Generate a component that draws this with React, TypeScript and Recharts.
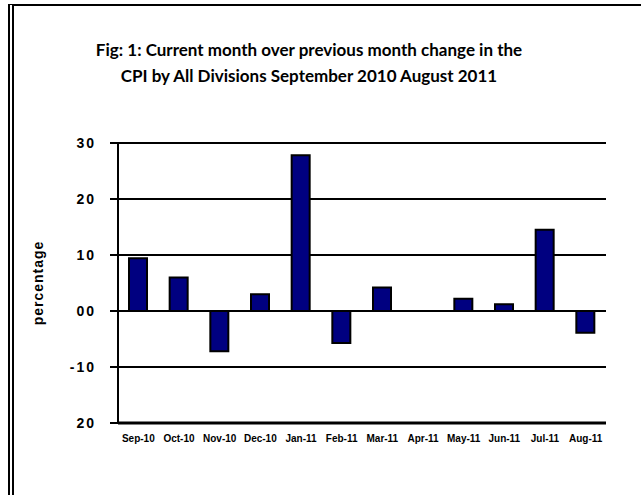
import { BarChart, Bar, XAxis, YAxis, CartesianGrid } from "recharts";

const months = [
  "Sep-10", "Oct-10", "Nov-10", "Dec-10", "Jan-11", "Feb-11",
  "Mar-11", "Apr-11", "May-11", "Jun-11", "Jul-11", "Aug-11",
];
const changes = [9.4, 6.0, -7.2, 3.0, 27.8, -5.7, 4.2, 0, 2.2, 1.2, 14.5, -3.9];
const yTicks = [-20, -10, 0, 10, 20, 30];
const yTickLabels = ["20", "-10", "00", "10", "20", "30"];

const data = months.map((m, i) => ({ month: m, change: changes[i] }));

const titleLines = [
  "Fig: 1: Current month over previous month change in the",
  "CPI by All Divisions September 2010 August 2011",
];

export default function App() {
  return (
    <div style={{ position: "absolute", left: 0, top: 0, width: 641, height: 495, background: "#fff", overflow: "hidden" }}>
      <div
        style={{
          position: "absolute",
          left: 8,
          top: 4,
          width: 640,
          height: 500,
          borderTop: "2px solid #000",
          borderLeft: "6px double #000",
        }}
      />
      <div
        style={{
          position: "absolute",
          left: 0,
          top: 37,
          width: 618,
          textAlign: "center",
          fontFamily: "Lato, 'Open Sans', sans-serif",
          fontWeight: 700,
          fontSize: 17,
          lineHeight: "26px",
          color: "#000",
        }}
      >
        {titleLines.map((t) => (
          <div key={t}>{t}</div>
        ))}
      </div>
      <BarChart
        width={641}
        height={495}
        data={data}
        margin={{ top: 143, right: 35, bottom: 42, left: 0 }}
        style={{ position: "absolute", left: 0, top: 0 }}
      >
        <CartesianGrid vertical={false} stroke="#000" strokeWidth={2} />
        <XAxis
          dataKey="month"
          height={30}
          tickLine={false}
          axisLine={{ stroke: "#000", strokeWidth: 3 }}
          interval={0}
          tick={{ fill: "#000", fontSize: 10, fontWeight: 700, fontFamily: "Arial, 'Liberation Sans', sans-serif" }}
          tickMargin={6}
        />
        <YAxis
          width={118}
          domain={[-20, 30]}
          ticks={yTicks}
          interval={0}
          tickFormatter={(v: number) => yTickLabels[yTicks.indexOf(v)]}
          tickLine={{ stroke: "#000", strokeWidth: 2 }}
          tickSize={8}
          axisLine={{ stroke: "#000", strokeWidth: 2 }}
          tick={{ fill: "#000", fontSize: 14, fontWeight: 700, fontFamily: "Arial, 'Liberation Sans', sans-serif", letterSpacing: 2 }}
          tickMargin={14}
          label={{
            value: "percentage",
            angle: -90,
            position: "insideLeft",
            offset: 38,
            style: { fill: "#000", fontSize: 14, fontWeight: 700, fontFamily: "Arial, 'Liberation Sans', sans-serif", letterSpacing: 1, textAnchor: "middle" },
          }}
        />
        <Bar dataKey="change" fill="#000080" stroke="#000" strokeWidth={2} barSize={18} isAnimationActive={false} />
      </BarChart>
    </div>
  );
}
